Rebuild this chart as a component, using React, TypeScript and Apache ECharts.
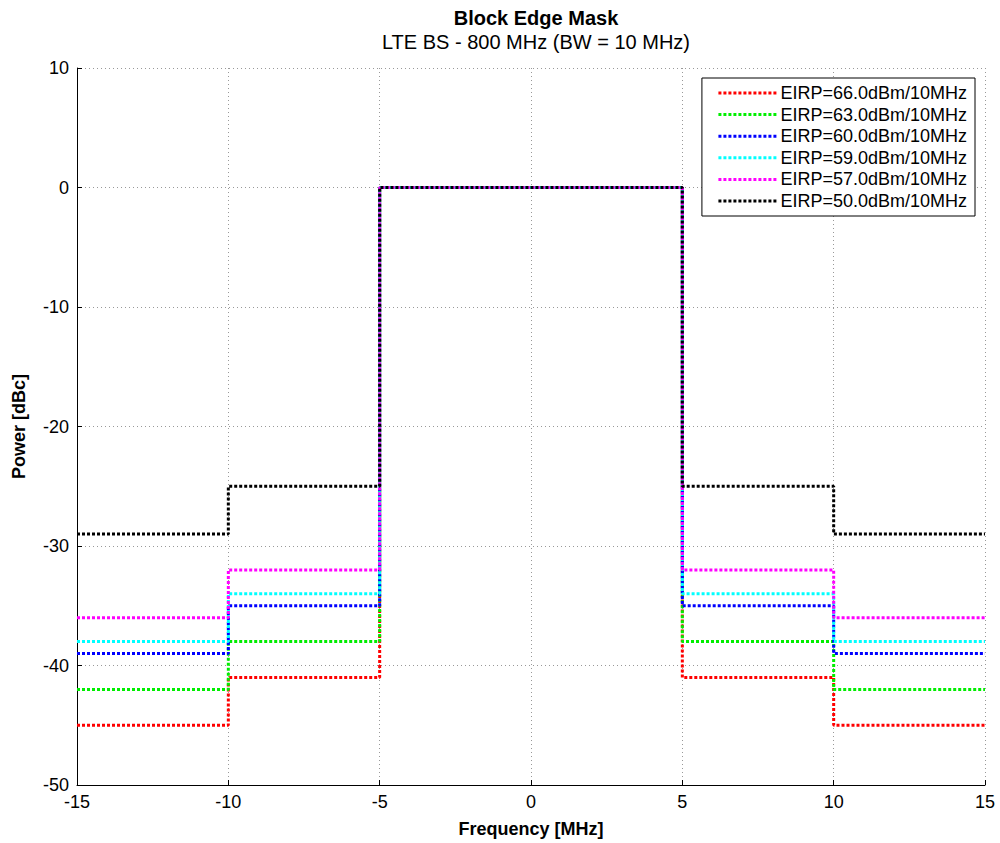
import React, { useEffect, useRef } from "react";
import * as echarts from "echarts";

const freqs = [-15, -10, -10, -5, -5, 5, 5, 10, 10, 15];
const seriesNames = [
  "EIRP=66.0dBm/10MHz",
  "EIRP=63.0dBm/10MHz",
  "EIRP=60.0dBm/10MHz",
  "EIRP=59.0dBm/10MHz",
  "EIRP=57.0dBm/10MHz",
  "EIRP=50.0dBm/10MHz",
];
const seriesColors = ["#ff0000", "#00ee00", "#0000ff", "#00ffff", "#ff00ff", "#000000"];
// power at each step point (dBc)
const red = [-45, -45, -41, -41, 0, 0, -41, -41, -45, -45];
const green = [-42, -42, -38, -38, 0, 0, -38, -38, -42, -42];
const blue = [-39, -39, -35, -35, 0, 0, -35, -35, -39, -39];
const cyan = [-38, -38, -34, -34, 0, 0, -34, -34, -38, -38];
const magenta = [-36, -36, -32, -32, 0, 0, -32, -32, -36, -36];
const black = [-29, -29, -25, -25, 0, 0, -25, -25, -29, -29];
const allValues = [red, green, blue, cyan, magenta, black];

export default function App() {
  const ref = useRef<HTMLDivElement>(null);
  useEffect(() => {
    if (!ref.current) return;
    const chart = echarts.init(ref.current, null, { renderer: "svg" });
    const font = "Liberation Sans, Arial, sans-serif";
    chart.setOption({
      animation: false,
      textStyle: { fontFamily: font },
      title: {
        text: "Block Edge Mask",
        subtext: "LTE BS - 800 MHz (BW = 10 MHz)",
        left: 531,
        textAlign: "center",
        top: 3,
        itemGap: 4,
        textStyle: { fontSize: 20, fontWeight: "bold", color: "#000", fontFamily: font },
        subtextStyle: { fontSize: 20, color: "#000", fontFamily: font },
      },
      legend: {
        orient: "vertical",
        right: 25,
        top: 78,
        itemWidth: 60,
        itemHeight: 10,
        itemGap: 3.6,
        padding: [6, 8, 6, 15],
        backgroundColor: "#fff",
        borderColor: "#000",
        borderWidth: 1,
        borderRadius: 0,
        itemStyle: { opacity: 0 },
        lineStyle: { width: 3 },
        textStyle: { fontSize: 18, color: "#000", fontFamily: font, padding: [0, 0, 0, -3] },
        data: seriesNames,
      },
      grid: { left: 77, right: 15, top: 68, bottom: 58, containLabel: false, outerBoundsMode: "none" },
      xAxis: {
        type: "value",
        min: -15,
        max: 15,
        interval: 5,
        name: "Frequency [MHz]",
        nameLocation: "middle",
        nameGap: 35,
        nameTextStyle: { fontSize: 18, fontWeight: "bold", color: "#000", fontFamily: font },
        axisLine: { onZero: false, lineStyle: { color: "#000", width: 1 } },
        axisTick: { inside: true, length: 5, lineStyle: { color: "#000" } },
        axisLabel: { fontSize: 18, color: "#000", margin: 8, fontFamily: font },
        splitLine: { show: true, lineStyle: { color: "#999", type: [1, 3], width: 1 } },
      },
      yAxis: {
        type: "value",
        min: -50,
        max: 10,
        interval: 10,
        name: "Power [dBc]",
        nameLocation: "middle",
        nameGap: 49,
        nameTextStyle: { fontSize: 18, fontWeight: "bold", color: "#000", fontFamily: font },
        axisLine: { show: true, onZero: false, lineStyle: { color: "#000", width: 1 } },
        axisTick: { show: true, inside: true, length: 5, lineStyle: { color: "#000" } },
        axisLabel: { fontSize: 18, color: "#000", margin: 8, fontFamily: font },
        splitLine: { show: true, lineStyle: { color: "#999", type: [1, 3], width: 1 } },
      },
      series: allValues.map((vals, i) => ({
        name: seriesNames[i],
        type: "line",
        symbol: "none",
        color: seriesColors[i],
        lineStyle: { color: seriesColors[i], width: 3, type: [3, 2] },
        data: freqs.map((f, j) => [f, vals[j]]),
      })),
    });
    return () => chart.dispose();
  }, []);
  return <div ref={ref} style={{ width: 1000, height: 843, position: "absolute", left: 0, top: 0 }} />;
}
